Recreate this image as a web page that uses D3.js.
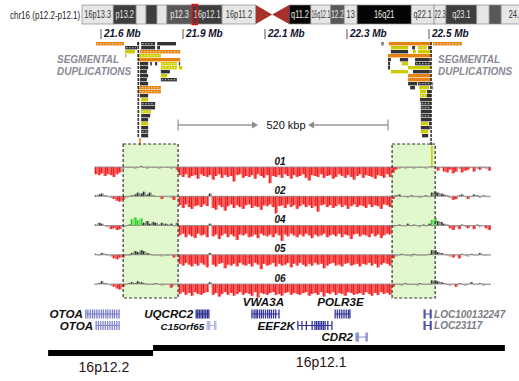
<!DOCTYPE html>
<html><head><meta charset="utf-8">
<script src="https://cdn.jsdelivr.net/npm/d3@7/dist/d3.min.js"></script>
<style>body{margin:0;background:#fff}svg{display:block}</style>
</head><body><svg id="c" width="519" height="381"></svg>
<script>
// ================= DATA =================
// chr16 ideogram (Mb)
const ideoLabels = ["16p13.3","p13.2","","","","p12.3","16p12.1","16p11.2","q11.2","16q12.1","12.2","13","16q21","q22.1","22.3","q23.1","","","24.1"];
const ideoStart  = [0,6.3,10.9,12.9,15.1,17.1,22.2,28.2,41.7,46.1,50.1,52.8,55.4,66.3,70.9,73.3,79.5,82.0,84.4];
const ideoEnd    = [6.3,10.9,12.9,15.1,17.1,22.2,28.2,35.0,46.1,50.1,52.8,55.4,66.3,70.9,73.3,79.5,82.0,84.4,90.35];
const ideoShade  = ["l","d","l","d","l","m","d","l","k","l","m","l","k","l","l","d","l","m","l"];
const centromere = [35.0, 38.3, 41.7];
const ideoHighlight = [22.2, 23.2];
// region axis
const tickPos = [21.7, 21.9, 22.1, 22.3, 22.5];
const tickLabels = ["21.6 Mb","21.9 Mb","22.1 Mb","22.3 Mb","22.5 Mb"];
// segmental duplications [start Mb, end Mb, row, type]
const segdupLeft = [
 [21.688,21.756,1,"od"],[21.788,21.793,1,"k"],[21.798,21.832,1,"kd"],[21.837,21.883,1,"k"],
 [21.759,21.788,2,"kd"],[21.798,21.832,2,"k"],[21.837,21.844,2,"k"],
 [21.759,21.783,3,"y"],[21.795,21.893,3,"od"],
 [21.759,21.761,4,"o"],[21.788,21.846,4,"yd"],
 [21.790,21.893,5,"o"],
 [21.795,21.815,6,"k"],[21.820,21.824,6,"k"],[21.832,21.837,6,"k"],[21.846,21.885,6,"yd"],[21.890,21.893,6,"k"],
 [21.795,21.815,7,"k"],[21.846,21.885,7,"yd"],[21.890,21.898,7,"y"],
 [21.795,21.812,8,"k"],[21.846,21.868,8,"k"],
 [21.795,21.815,9,"k"],[21.846,21.861,9,"y"],
 [21.795,21.812,10,"k"],[21.846,21.885,10,"kd"],
 [21.795,21.815,11,"k"],
 [21.790,21.846,12,"od"],
 [21.790,21.846,13,"od"],
 [21.795,21.815,14,"k"],
 [21.798,21.815,15,"y"],
 [21.798,21.832,16,"kd"],
 [21.798,21.832,17,"k"],
 [21.798,21.822,18,"yd"],
 [21.798,21.820,19,"k"],
 [21.798,21.815,20,"k"],
 [21.798,21.815,21,"y"],
 [21.798,21.815,22,"k"],
 [21.798,21.815,23,"kd"],
 [21.798,21.815,24,"k"]
];
const segdupRight = [
 [22.383,22.390,1,"g"],[22.402,22.507,1,"o"],[22.510,22.580,1,"od"],
 [22.407,22.449,2,"y"],[22.459,22.466,2,"k"],[22.473,22.495,2,"yd"],[22.498,22.505,2,"k"],
 [22.407,22.449,3,"k"],[22.461,22.468,3,"y"],[22.473,22.505,3,"y"],
 [22.400,22.507,4,"o"],
 [22.400,22.407,5,"k"],[22.429,22.449,5,"k"],[22.466,22.502,5,"k"],
 [22.400,22.405,6,"k"],[22.434,22.449,6,"y"],[22.466,22.505,6,"kd"],
 [22.400,22.405,7,"k"],[22.449,22.505,7,"y"],
 [22.407,22.449,8,"y"],[22.461,22.502,8,"k"],
 [22.449,22.505,9,"o"],
 [22.449,22.505,10,"o"],
 [22.449,22.471,11,"k"],[22.473,22.505,11,"kd"],[22.507,22.510,11,"g"],
 [22.454,22.466,12,"k"],[22.476,22.500,12,"y"],[22.507,22.510,12,"g"],
 [22.478,22.493,13,"y"],[22.495,22.505,13,"k"],
 [22.478,22.495,14,"yd"],[22.495,22.505,14,"k"],
 [22.478,22.505,15,"k"],[22.505,22.507,15,"y"],
 [22.480,22.505,16,"kd"],
 [22.480,22.505,17,"kd"],
 [22.480,22.505,18,"k"],
 [22.480,22.505,19,"kd"],
 [22.480,22.505,20,"k"],
 [22.480,22.498,21,"y"],[22.500,22.505,21,"k"],
 [22.480,22.502,22,"k"],
 [22.480,22.498,23,"y"],
 [22.483,22.498,24,"k"]
];
// vertical segdup columns [pos Mb, fromRow, toRow, type]
const segdupColumns = [[21.791,1,24,"k"],[21.795,25,26,"o"],[22.505,1,26,"k"],[22.507,27,31,"y"]];
// flanking segmental-duplication blocks (green) and distance
const flankStart = [21.754, 22.410];
const flankEnd   = [21.888, 22.515];
const spanStart = 21.888, spanEnd = 22.400, spanLabel = "520 kbp";
// array CGH probes
const probeStart = 21.688, probeStep = 0.00732;
const trackNames = ["01","02","04","05","06"];
const track01 = [-8,-9,-7,-10,-8,-9,-11,-8,-6,
 -2,-1,0,-1,-2,-1,1,-1,-2,-1,0,-1,-2,-1,-1,0,-2,-1,-3,
 -9,-11,-8,-12,-10,-9,-13,-8,-10,-11, -9,-14,-10,-8,-12,-9,-11,-10,-16,-9,
 -8,-12,-10,-11,-9,-13,-8,-10,-12,-9, -18,-10,-11,-9,-12,-8,-10,-13,-9,-11,
 -10,-8,-12,-15,-9,-10,-11,-8,-12,-10, -9,-13,-11,-8,-10,-12,-9,-11,-14,-10,
 -8,-12,-9,-10,-11,-13,-9,-10,-12,-8,-11,
 -6,-3,-2,-1,-2,0,-1,-2,-1,0,-1,-2,-1,1,
 -2,-4,-1,-5,-6,-3,-7,-5,-2,-6,-4,-3,-1,-5,-2,-3,-1,-2,-4];
const track02 = [1,2,3,1,-1,-2,-3,-5,-6,
 -4,-2,0,1,2,4,3,5,2,4,1,0,-1,-3,0,-1,-2,-4,-1,
 -10,-13,-9,-12,-14,-11,-10,-12,-9,-11, 3,-13,-15,-10,-12,-16,-11,-9,-13,-10,
 -12,-14,-10,-9,-13,-11,-12,-15,-10,-11, -9,-12,-19,-11,-10,-13,-9,-12,-10,-14,
 -11,-9,-12,-10,-13,-11,-17,-10,-9,-12, -10,-13,-11,-9,-12,-10,-14,-11,-9,-12,
 -10,-11,-13,-9,-12,-10,-11,-14,-9,-10,-12,
 -3,1,2,-1,0,-2,1,0,-1,-2,0,1,-1,4,
 5,4,3,2,1,-2,-4,-3,1,2,-1,-3,0,2,1,-2,1,0,-1];
const track04 = [1,3,2,-1,-2,-4,-3,-5,-4,
 -2,0,1,7,9,6,8,3,5,2,4,3,1,3,2,1,2,0,3,
 -11,-9,-13,-10,-12,-14,-9,-11,-10,-13, 2,-12,-10,-15,-11,-9,-13,-10,-12,-16,
 -10,-11,-9,-13,-12,-10,-14,-9,-11,-12, -10,-13,-9,-11,-17,-10,-12,-9,-11,-13,
 -10,-12,-9,-11,-14,-10,-12,-11,-9,-13, -11,-10,-12,-9,-13,-10,-11,-15,-10,-9,
 -12,-10,-11,-13,-9,-12,-10,-14,-11,-9,-10,
 -2,0,1,-1,0,2,-1,1,0,-2,1,0,2,6,
 8,5,4,2,1,-3,-5,-2,-4,1,-2,-3,0,-4,1,-2,-1,-3,-5];
const track05 = [1,0,2,1,-1,-2,-4,-5,-3,
 -3,-1,0,2,4,3,5,4,2,1,0,-1,0,-2,-1,0,-1,-3,-2,
 -10,-12,-9,-11,-13,-10,-12,-9,-11,-14, 2,-11,-13,-10,-9,-15,-11,-12,-10,-13,
 -9,-11,-12,-10,-13,-9,-11,-16,-10,-12, -11,-9,-13,-10,-12,-11,-9,-14,-10,-12,
 -9,-11,-13,-10,-12,-9,-11,-10,-15,-12, -10,-9,-12,-11,-13,-10,-9,-12,-11,-10,
 -13,-10,-11,-9,-12,-10,-14,-11,-9,-10,-12,
 -4,-2,0,1,-1,0,-2,1,0,-1,0,-1,1,5,
 5,3,2,1,0,-2,-3,-1,-4,1,0,-2,1,-1,0,2,-1,0,-1];
const track06 = [0,1,3,1,-1,-2,-3,-5,-6,
 -3,-1,1,2,1,3,2,1,0,-1,0,1,-1,-2,0,-1,-4,-2,-1,
 -11,-9,-12,-10,-13,-9,-11,-12,-10,-9, 2,-12,-10,-14,-11,-9,-12,-10,-13,-11,
 -9,-12,-10,-11,-13,-9,-15,-10,-11,-12, -10,-9,-12,-11,-13,-10,-9,-12,-10,-11,
 -12,-10,-9,-13,-11,-10,-12,-9,-14,-10, -11,-9,-12,-10,-11,-13,-9,-10,-12,-11,
 -10,-12,-9,-11,-13,-10,-12,-9,-11,-10,-12,
 -3,-1,0,-2,1,0,-1,0,-2,1,0,-1,0,4,
 4,3,2,1,0,-2,-1,-3,1,0,-2,-1,2,0,-1,1,-2,0,-1];
// genes
const geneNames  = ["OTOA","OTOA","UQCRC2","C15Orf65","VWA3A","EEF2K","POLR3E","CDR2","LOC100132247","LOC23117"];
const geneStart  = [21.663,21.688,21.932,21.959,22.068,22.180,22.271,22.322,22.488,22.488];
const geneEnd    = [21.744,21.744,21.963,21.980,22.134,22.263,22.307,22.349,22.505,22.505];
const geneRow    = [1,2,1,2,1,2,1,3,1,2];
const geneLabelSide = ["left","left","left","left","above","left","above","left","right","right"];
const geneExons = [
 [0,0.06,0.13,0.2,0.26,0.33,0.4,0.47,0.53,0.6,0.66,0.73,0.8,0.86,0.93,1],
 [0,0.1,0.2,0.3,0.4,0.5,0.6,0.7,0.8,0.9,1],
 [0,0.12,0.25,0.38,0.5,0.62,0.75,0.88,1],
 [0,0.15,0.3,0.85,1],
 [0,0.08,0.15,0.2,0.28,0.35,0.42,0.5,0.58,0.65,0.72,0.8,0.88,1],
 [0,0.12,0.25,0.42,0.5,0.55,0.6,0.65,0.7,0.75,0.8,0.88,1],
 [0,0.15,0.3,0.45,0.6,0.75,0.9,1],
 [0,0.1,0.2,0.9,1],
 [0,0.12,0.88,1],
 [0,0.12,0.88,1]];
const geneColor = ["#7a7ac8","#8484cc","#2e2e90","#b4b4e0","#34349c","#34349c","#34349c","#8888cc","#4a4aa8","#4a4aa8"];
// bottom cytobands
const cytoNames = ["16p12.2","16p12.1"];
const cytoStart = [21.571, 21.827];
const cytoEnd   = [21.827, 22.685];
const cytoLevel = [0, 1];
const cytoLabelAt = [21.707, 22.237];

// ================= DRAW =================
const svg = d3.select("#c");
const x = d3.scaleLinear().domain([21.7, 22.5]).range([101, 429]);
const ideo = d3.scaleLinear().domain([0, 88]).range([82, 519]);
const sans = "'Liberation Sans',Arial,sans-serif";

// ideogram
svg.append("text").attr("transform", "translate(10,18.5) scale(0.8,1)").attr("font-family", sans)
  .attr("font-size", 10).attr("fill", "#222").text("chr16 (p12.2-p12.1)");
const shadeFill = {l:"#e6e6e6", d:"#3e3e3e", m:"#585858", k:"#050505"};
const shadeText = {l:"#333", d:"#e6e6e6", m:"#eee", k:"#eee"};
const iTop = 5, iH = 19;
const bands = ideoLabels.map((l,i)=>({l, s:ideoStart[i], e:ideoEnd[i], sh:ideoShade[i]}));
const ig = svg.append("g");
ig.selectAll("rect").data(bands).join("rect")
  .attr("x", d=>ideo(d.s)).attr("y", iTop).attr("width", d=>ideo(d.e)-ideo(d.s)).attr("height", iH)
  .attr("fill", d=>shadeFill[d.sh]).attr("stroke", "#8a8a8a").attr("stroke-width", 0.7);
ig.selectAll("text").data(bands).join("text")
  .attr("text-anchor","middle")
  .attr("font-family", sans).attr("font-size", 10).attr("fill", d=>shadeText[d.sh]).text(d=>d.l)
  .each(function(d){
    const w = this.getComputedTextLength() || 1;
    const bw = ideo(Math.min(d.e, 88)) - ideo(d.s);
    const s = d.e > 88 ? 0.74 : Math.min(0.74, (bw - 1) / w);
    d3.select(this).attr("transform", `translate(${(ideo(d.s)+ideo(d.e))/2},${iTop+iH/2+3.6}) scale(${s},1)`);
  });
const cmid = iTop+iH/2;
ig.append("path").attr("fill", "#a8302a")
  .attr("d", `M${ideo(centromere[0])},${iTop}L${ideo(centromere[1])},${cmid}L${ideo(centromere[0])},${iTop+iH}Z` +
             `M${ideo(centromere[2])},${iTop}L${ideo(centromere[1])},${cmid}L${ideo(centromere[2])},${iTop+iH}Z`);
ig.append("rect").attr("x", ideo(ideoHighlight[0])).attr("y", iTop-0.5)
  .attr("width", ideo(ideoHighlight[1])-ideo(ideoHighlight[0])).attr("height", iH+1)
  .attr("fill","none").attr("stroke","#e01010").attr("stroke-width",1.5);

// position ticks
const tg = svg.append("g");
tg.selectAll("line").data(tickPos).join("line")
  .attr("x1", d=>x(d)).attr("x2", d=>x(d)).attr("y1", 29).attr("y2", 39)
  .attr("stroke", "#aaa").attr("stroke-width", 2);
tg.selectAll("text").data(tickPos).join("text")
  .attr("x", d=>x(d)+3).attr("y", 37).attr("font-family", sans).attr("font-size", 10)
  .attr("font-weight","bold").attr("font-style","italic").attr("fill","#12122e")
  .text((d,i)=>tickLabels[i]);

// flank boxes (fill)
const flanks = flankStart.map((s,i)=>({s, e:flankEnd[i]}));
const boxTop = 144, boxBot = 298;
svg.append("g").selectAll("rect").data(flanks).join("rect")
  .attr("x", d=>x(d.s)).attr("y", boxTop).attr("width", d=>x(d.e)-x(d.s)).attr("height", boxBot-boxTop)
  .attr("fill", "#e0f8cc");

// segmental duplications
const rowY = d3.scaleLinear().domain([1, 25]).range([42, 138]);
const sdFill = {o:"#e8820e", y:"#cccc00", k:"#333333", g:"#888888"};
const sdAll = segdupLeft.concat(segdupRight).map(d=>({s:d[0], e:d[1], r:d[2], t:d[3]}));
const sg = svg.append("g");
sg.selectAll("rect").data(sdAll).join("rect")
  .attr("x", d=>x(d.s)).attr("y", d=>rowY(d.r)).attr("width", d=>Math.max(1, x(d.e)-x(d.s))).attr("height", 3.4)
  .attr("fill", d=>sdFill[d.t[0]]);
sg.selectAll("line.dot").data(sdAll.filter(d=>d.t.length>1)).join("line").attr("class","dot")
  .attr("x1", d=>x(d.s)+1).attr("x2", d=>x(d.e)-1).attr("y1", d=>rowY(d.r)+1.7).attr("y2", d=>rowY(d.r)+1.7)
  .attr("stroke", "#fff").attr("stroke-width", 1.1).attr("stroke-dasharray", "1.4,1.6").attr("opacity", 0.8);
sg.selectAll("line.col").data(segdupColumns).join("line").attr("class","col")
  .attr("x1", d=>x(d[0])).attr("x2", d=>x(d[0])).attr("y1", d=>rowY(d[1])).attr("y2", d=>rowY(d[2])+3.4)
  .attr("stroke", d=>sdFill[d[3]]).attr("stroke-width", 1.6)
  .attr("stroke-dasharray", d=>d[3]==="k" ? "3,1" : null);

// labels
const sdText = svg.append("g").attr("font-family", sans).attr("font-size", 10).attr("font-weight","bold")
  .attr("font-style","italic").attr("fill","#8a8a96");
sdText.append("text").attr("x", 57).attr("y", 62.5).text("SEGMENTAL");
sdText.append("text").attr("x", 57).attr("y", 75).text("DUPLICATIONS");
sdText.append("text").attr("x", 438).attr("y", 62.5).text("SEGMENTAL");
sdText.append("text").attr("x", 438).attr("y", 75).text("DUPLICATIONS");

// span arrow
const ay = 125, amid = (x(spanStart)+x(spanEnd))/2, gap = 25;
const ag = svg.append("g").attr("stroke", "#9a9a9a").attr("stroke-width", 1.3);
ag.append("line").attr("x1", x(spanStart)).attr("x2", amid-gap-5).attr("y1", ay).attr("y2", ay);
ag.append("line").attr("x1", amid+gap+5).attr("x2", x(spanEnd)).attr("y1", ay).attr("y2", ay);
ag.append("line").attr("x1", x(spanStart)).attr("x2", x(spanStart)).attr("y1", ay-5.5).attr("y2", ay+5.5);
ag.append("line").attr("x1", x(spanEnd)).attr("x2", x(spanEnd)).attr("y1", ay-5.5).attr("y2", ay+5.5);
svg.append("path").attr("fill","#8a8a8a")
  .attr("d", `M${amid-gap-6},${ay-3.5}L${amid-gap},${ay}L${amid-gap-6},${ay+3.5}Z M${amid+gap+6},${ay-3.5}L${amid+gap},${ay}L${amid+gap+6},${ay+3.5}Z`);
svg.append("text").attr("x", amid+3).attr("y", ay+4).attr("text-anchor","middle").attr("font-family", sans)
  .attr("font-size", 11).attr("fill", "#111").text(spanLabel);

// tracks
const trackValues = [track01, track02, track04, track05, track06];
const trackY = d3.scalePoint().domain(trackNames).range([167, 284]);
const amp = d3.scaleLinear().domain([0, 10]).range([0, 9]);
const probePos = d3.range(track01.length).map(i => probeStart + i*probeStep);
const col = v => v <= -3 ? "#ff2a2a" : v < 0 ? "#9a8c8c" : v < 6 ? "#2a2a2a" : "#22cc22";
trackNames.forEach((t, k) => {
  const base = trackY(t);
  const g = svg.append("g");
  const vals = trackValues[k];
  g.selectAll("rect").data(vals).join("rect")
    .attr("x", (d,i)=>x(probePos[i])-1.6).attr("width", 3.2)
    .attr("y", d => d < 0 ? base : base - amp(d))
    .attr("height", d => Math.max(0.8, amp(Math.abs(d))))
    .attr("fill", d => col(d)).attr("opacity", d => d <= -3 ? 0.78 : 0.5);
  g.selectAll("line").data(vals).join("line")
    .attr("x1", (d,i)=>x(probePos[i])+((i%2)?0.6:-0.6)).attr("x2", (d,i)=>x(probePos[i])+((i%2)?0.6:-0.6))
    .attr("y1", base).attr("y2", d => base - (d<0 ? -amp(-d) : amp(d)))
    .attr("stroke", d => d <= -3 ? "#e81c1c" : col(d)).attr("stroke-width", 1);
  g.append("line").attr("x1", x(probePos[0])-1.5).attr("x2", x(probePos[vals.length-1])+1.5)
    .attr("y1", base).attr("y2", base).attr("stroke", "#8a8a8a").attr("stroke-width", 1).attr("opacity", 0.8);
  g.append("text").attr("x", 280).attr("y", base-2.5).attr("text-anchor","middle")
    .attr("font-family", sans).attr("font-size", 10).attr("font-weight","bold").attr("font-style","italic")
    .attr("fill","#111").text(t);
});

// flank boxes (dashed border)
svg.append("g").selectAll("rect").data(flanks).join("rect")
  .attr("x", d=>x(d.s)).attr("y", boxTop).attr("width", d=>x(d.e)-x(d.s)).attr("height", boxBot-boxTop)
  .attr("fill", "none").attr("stroke", "#333").attr("stroke-width", 1.2).attr("stroke-dasharray", "3,2");

// genes
const gRowY = d3.scaleOrdinal().domain([1,2,3]).range([314, 325.5, 337]);
const genes = geneNames.map((n,i)=>({n, s:geneStart[i], e:geneEnd[i], r:geneRow[i], side:geneLabelSide[i], ex:geneExons[i], c:geneColor[i]}));
const gg = svg.append("g");
genes.forEach(d => {
  const y = gRowY(d.r), x0 = x(d.s), x1 = x(d.e);
  gg.append("line").attr("x1", x0).attr("x2", x1).attr("y1", y).attr("y2", y).attr("stroke", d.c).attr("stroke-width", 1);
  gg.selectAll(null).data(d.ex).join("rect")
    .attr("x", f => x0 + f*(x1-x0) - 0.6).attr("y", y-4.5).attr("width", 1.3).attr("height", 9).attr("fill", d.c);
  const loc = d.n.startsWith("LOC"), small = d.n === "C15Orf65";
  const t = gg.append("text").attr("font-family", sans).attr("font-weight","bold").attr("font-style","italic")
    .attr("font-size", loc ? 10 : small ? 9.8 : 11.6).attr("fill", loc ? "#7c7c84" : "#111").text(d.n);
  if (d.side === "left") t.attr("x", x0-3).attr("y", y+4.2).attr("text-anchor","end");
  else if (d.side === "right") t.attr("x", x1+3).attr("y", y+3.6);
  else t.attr("x", (x0+x1)/2-2).attr("y", y-8).attr("text-anchor","middle");
});

// bottom cytobands
const cyto = cytoNames.map((n,i)=>({n, s:cytoStart[i], e:cytoEnd[i], lv:cytoLevel[i], at:cytoLabelAt[i]}));
const cyY = d3.scaleLinear().domain([0,1]).range([350, 345]);
const cg = svg.append("g");
cg.selectAll("rect").data(cyto).join("rect")
  .attr("x", d=>x(d.s)).attr("y", d=>cyY(d.lv)).attr("width", d=>x(d.e)-x(d.s)).attr("height", 6).attr("fill", "#000");
cg.selectAll("text").data(cyto).join("text")
  .attr("x", d=>x(d.at)).attr("y", d=>cyY(d.lv)+22).attr("text-anchor","middle")
  .attr("font-family", sans).attr("font-size", 14).attr("fill", "#2a1414").text(d=>d.n);
</script></body></html>
